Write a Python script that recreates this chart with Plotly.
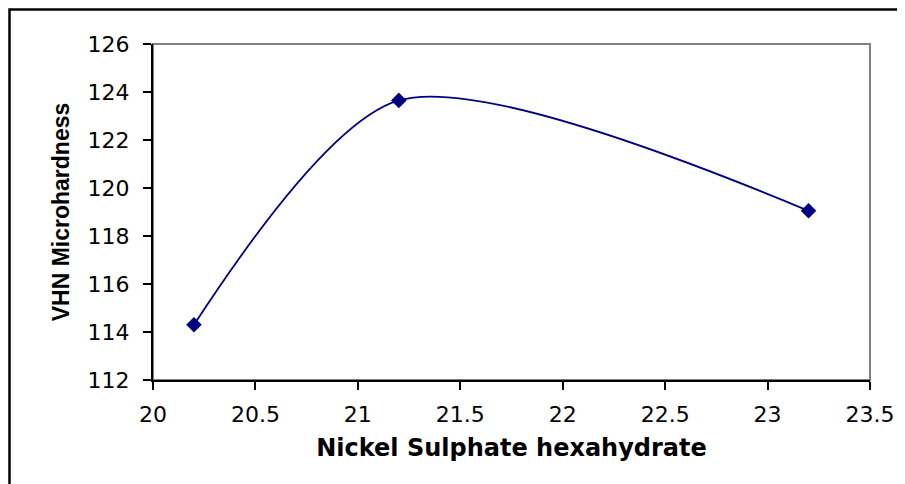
import plotly.graph_objects as go

# Data
nickel_sulphate = [20.2, 21.2, 23.2]
vhn_microhardness = [114.3, 123.65, 119.05]
x_ticks = [20, 20.5, 21, 21.5, 22, 22.5, 23, 23.5]
x_tick_text = ["20", "20.5", "21", "21.5", "22", "22.5", "23", "23.5"]
y_ticks = [112, 114, 116, 118, 120, 122, 124, 126]

# page has an 8px body margin, so the figure is offset by 8px
W, H = 897, 476
L, T = 145, 36
pw, ph = 717, 336
R, B = W - L - pw, H - T - ph

fig = go.Figure()
fig.add_trace(go.Scatter(
    x=nickel_sulphate, y=vhn_microhardness,
    mode="lines+markers",
    line=dict(color="#000080", width=1.8, shape="spline", smoothing=0.8),
    marker=dict(symbol="diamond", size=12, color="#000080"),
    showlegend=False,
))

tick_font = dict(family="DejaVu Sans", size=22, color="#000000")

fig.update_layout(
    width=W, height=H,
    margin=dict(l=L, r=R, t=T, b=B, pad=0),
    paper_bgcolor="white", plot_bgcolor="white",
    xaxis=dict(
        range=[20, 23.5], tickvals=x_ticks, ticktext=x_tick_text,
        showgrid=False, zeroline=False,
        showline=True, linecolor="black", linewidth=2,
        ticks="outside", ticklen=8, tickwidth=2, tickcolor="black",
        tickfont=tick_font, ticklabelstandoff=6,
        title=dict(text="<b>Nickel Sulphate hexahydrate</b>",
                   font=dict(family="DejaVu Sans", size=24, color="black"),
                   standoff=13),
    ),
    yaxis=dict(
        range=[112, 126], tickvals=y_ticks,
        showgrid=False, zeroline=False,
        showline=True, linecolor="black", linewidth=2,
        ticks="outside", ticklen=8, tickwidth=2, tickcolor="black",
        tickfont=tick_font, ticklabelstandoff=9,
        title=dict(text="<b>VHN Microhardness</b>",
                   font=dict(family="Liberation Sans", size=23, color="black"),
                   standoff=12),
    ),
    shapes=[
        # grey plot-area frame (top/right visible)
        dict(type="rect", xref="x domain", yref="y domain", x0=0, y0=0, x1=1, y1=1,
             line=dict(color="#808080", width=2), layer="below"),
        # outer chart border
        dict(type="rect", xref="paper", yref="paper",
             x0=(1.5 - L) / pw, x1=(W + 10 - L) / pw,
             y0=-(H + 10 - (T + ph)) / ph, y1=1 + (T - 1.5) / ph,
             line=dict(color="black", width=2.5), layer="below"),
    ],
)

fig.write_html("out.html")
